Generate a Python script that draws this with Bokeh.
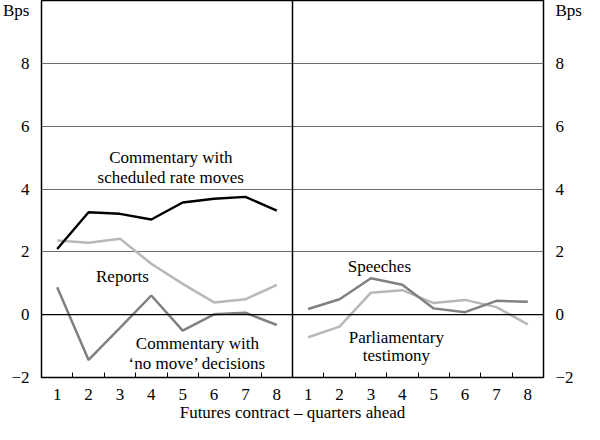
from bokeh.plotting import figure
from bokeh.models import Range1d, LinearAxis, FixedTicker, Span, Label
from bokeh.embed import file_html
from bokeh.resources import INLINE

# ---- data ----
quarters = [1, 2, 3, 4, 5, 6, 7, 8]
scheduled = [2.09, 3.26, 3.21, 3.03, 3.57, 3.69, 3.75, 3.31]
reports = [2.36, 2.29, 2.42, 1.62, 0.98, 0.39, 0.49, 0.95]
no_move = [0.87, -1.44, -0.42, 0.61, -0.51, 0.01, 0.06, -0.33]
speeches = [0.18, 0.49, 1.16, 0.95, 0.20, 0.08, 0.44, 0.41]
testimony = [-0.72, -0.38, 0.70, 0.78, 0.37, 0.47, 0.24, -0.31]
y_ticks = [-2, 0, 2, 4, 6, 8]
y_unit_label = "Bps"
x_title = "Futures contract \u2013 quarters ahead"

n = len(quarters)
right_x = [q + n for q in quarters]

FONT = "Liberation Serif"
FS = "17px"
BLACK = "#000000"
LIGHT = "#b8b8b8"
MID = "#808080"

p = figure(width=584, height=424, output_backend="svg", toolbar_location=None,
           x_range=Range1d(0.5, 2 * n + 0.5), y_range=Range1d(-2, 10),
           min_border_left=26, min_border_right=30, min_border_top=0, min_border_bottom=30)
p.outline_line_color = BLACK
p.outline_line_width = 1.5
p.background_fill_color = "white"
p.border_fill_color = "white"

# grid
p.xgrid.visible = False
p.ygrid.ticker = FixedTicker(ticks=[t for t in y_ticks if t not in (-2, 0)])
p.ygrid.grid_line_color = "#6e6e6e"
p.ygrid.grid_line_width = 1

# x axis
xax = p.xaxis[0]
xax.ticker = FixedTicker(ticks=quarters + right_x,
                         minor_ticks=[q + 0.5 for q in quarters[:-1]] + [q + 0.5 for q in right_x[:-1]])
xax.major_label_overrides = {x: str(q) for q, x in zip(quarters, right_x)}
xax.major_tick_line_color = None
xax.minor_tick_line_color = BLACK
xax.minor_tick_line_width = 1
xax.minor_tick_in = 5
xax.minor_tick_out = 0
xax.axis_line_color = None
xax.major_label_standoff = 5
xax.major_label_text_font = FONT
xax.major_label_text_font_size = FS
xax.major_label_text_color = BLACK
xax.axis_label = x_title
xax.axis_label_text_font = FONT
xax.axis_label_text_font_size = FS
xax.axis_label_text_font_style = "normal"
xax.axis_label_standoff = 0
xax.axis_label_text_color = BLACK

# y axes
top_tick = 9.75
yticks_all = y_ticks + [top_tick]
def style_y(ax):
    ax.ticker = FixedTicker(ticks=yticks_all)
    ax.major_label_overrides = {top_tick: y_unit_label}
    ax.major_tick_line_color = None
    ax.minor_tick_line_color = None
    ax.axis_line_color = None
    ax.major_label_standoff = 6
    ax.major_label_text_font = FONT
    ax.major_label_text_font_size = FS
    ax.major_label_text_color = BLACK

style_y(p.yaxis[0])
rax = LinearAxis()
style_y(rax)
p.add_layout(rax, "right")

# zero line and panel divider
p.add_layout(Span(location=0, dimension="width", line_color=BLACK, line_width=1.2))
p.add_layout(Span(location=n + 0.5, dimension="height", line_color=BLACK, line_width=1.5))

# lines
p.line(quarters, reports, line_color=LIGHT, line_width=2.5)
p.line(quarters, no_move, line_color=MID, line_width=2.5)
p.line(quarters, scheduled, line_color=BLACK, line_width=2.4)
p.line(right_x, testimony, line_color=LIGHT, line_width=2.5)
p.line(right_x, speeches, line_color=MID, line_width=2.5)

def lab(x, y, t):
    p.add_layout(Label(x=x, y=y, text=t, text_align="center", text_baseline="middle",
                       text_font=FONT, text_font_size=FS, text_color=BLACK))

lab(4.62, 5.0, "Commentary with")
lab(4.62, 4.38, "scheduled rate moves")
lab(3.08, 1.2, "Reports")
lab(5.47, -0.92, "Commentary with")
lab(5.47, -1.56, "\u2018no move\u2019 decisions")
lab(11.27, 1.54, "Speeches")
lab(11.81, -0.74, "Parliamentary")
lab(11.81, -1.29, "testimony")

open("out.html", "w").write(file_html(p, INLINE))
